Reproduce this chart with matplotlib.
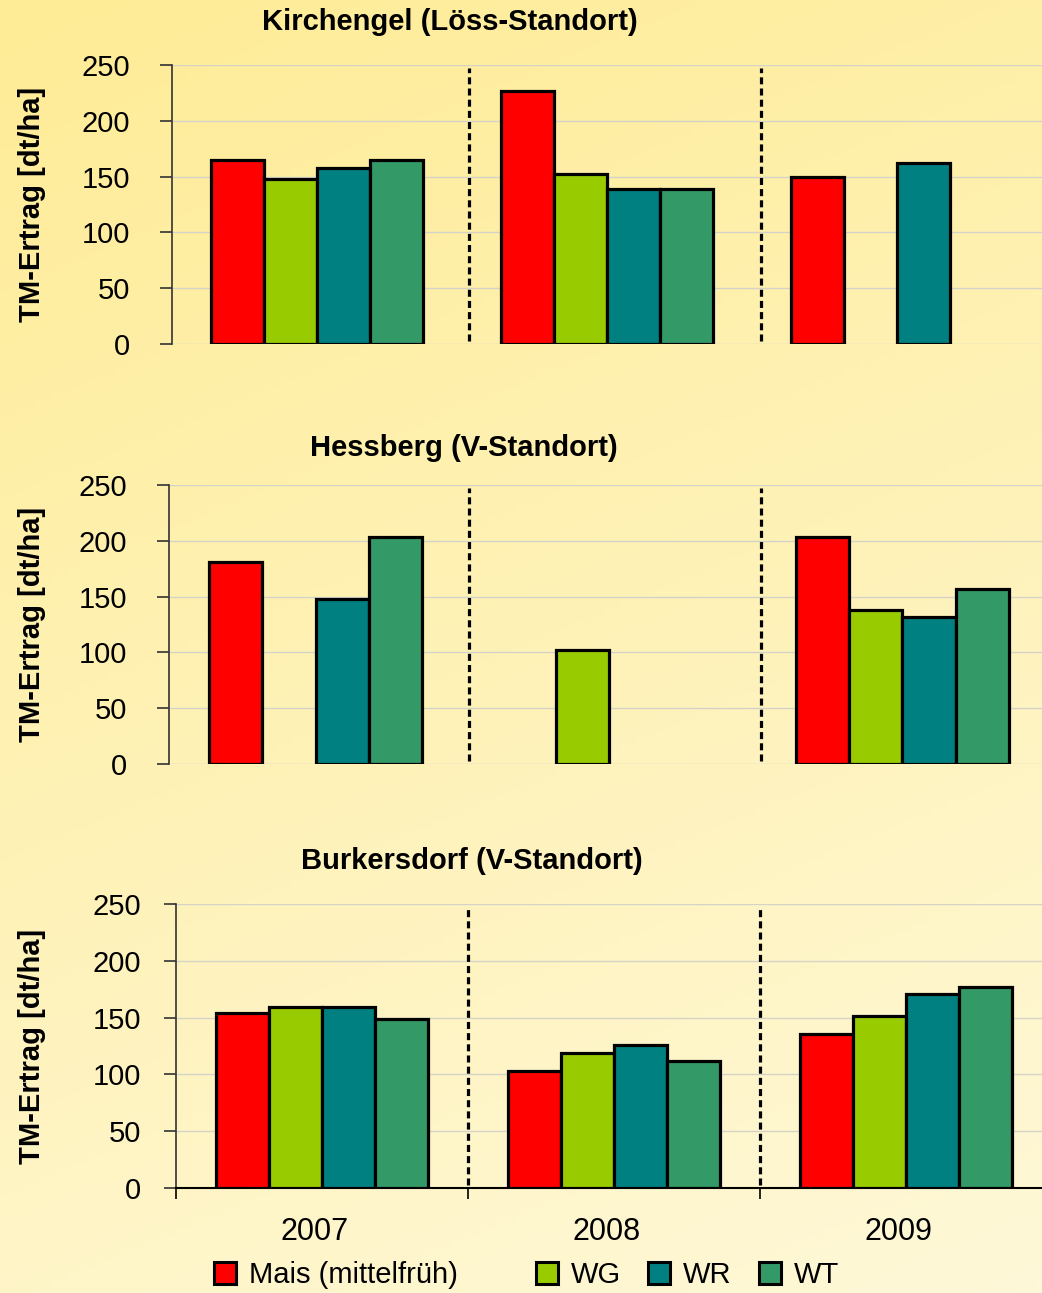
import numpy as np
import matplotlib.pyplot as plt
from matplotlib.patches import Patch
from matplotlib.colors import LinearSegmentedColormap

years = ['2007', '2008', '2009']
crops = ['Mais (mittelfrüh)', 'WG', 'WR', 'WT']
colors = ['#FF0000', '#99CC00', '#008080', '#339966']

sites = ['Kirchengel (Löss-Standort)', 'Hessberg (V-Standort)', 'Burkersdorf (V-Standort)']

# yields per site: one list per crop, values for 2007, 2008, 2009 (nan = no bar)
nan = np.nan
kirchengel = [[165, 227, 150],
              [148, 152, nan],
              [158, 139, 162],
              [165, 139, nan]]
hessberg = [[181, nan, 203],
            [nan, 102, 138],
            [148, nan, 132],
            [203, nan, 157]]
burkersdorf = [[154, 103, 136],
               [159, 119, 151],
               [159, 126, 171],
               [149, 112, 177]]
data = [kirchengel, hessberg, burkersdorf]

FAM = ['Liberation Sans', 'DejaVu Sans']
W, H = 1042, 1293
fig = plt.figure(figsize=(W / 100, H / 100), dpi=100)

# background gradient
bg = fig.add_axes([0, 0, 1, 1], zorder=-10)
yy, xx = np.mgrid[0:1:200j, 0:1:200j]
grad = 0.75 * yy + 0.25 * xx
cmap = LinearSegmentedColormap.from_list('bg', ['#FEEC96', '#FFF8D8'])
bg.imshow(grad, cmap=cmap, aspect='auto', extent=[0, 1, 0, 1], origin='upper')
bg.axis('off')

# axes rects in pixels: left, top, bottom, width
rects = [(172, 65, 344, 870), (169, 485, 764, 880), (176, 904, 1188, 876)]
seps = [[0.524, 1.531], [0.522, 1.517], [0.5, 1.5]]
title_pos = [(450, 22), (464, 448), (472, 861)]
ypads = [21, 21, 16]

bw = 0.182
x = np.arange(len(years))
for i, (l, t, b, w) in enumerate(rects):
    ax = fig.add_axes([l / W, 1 - b / H, w / W, (b - t) / H])
    ax.set_facecolor('none')
    for j, vals in enumerate(data[i]):
        ax.bar(x + (j - 1.5) * bw, vals, bw, color=colors[j], edgecolor='black',
               linewidth=2.3, zorder=3)
    for s in seps[i]:
        ax.axvline(s, ymin=0.01, ymax=0.99, color='black', linestyle=(0, (2.2, 1.3)),
                   linewidth=2.3, zorder=4)
    ax.set_xlim(-0.5, 2.5)
    ax.set_ylim(0, 250)
    ax.set_yticks(range(0, 251, 50))
    ax.yaxis.grid(True, color='#D5D3C8', linewidth=1, zorder=0)
    for sp in ['top', 'right']:
        ax.spines[sp].set_visible(False)
    ax.spines['left'].set_color('#333333')
    ax.spines['left'].set_linewidth(1.2)
    ax.tick_params(axis='y', labelsize=21, length=9, width=1.2, color='#333333',
                   pad=ypads[i])
    if i < 2:
        ax.spines['bottom'].set_visible(False)
        ax.set_xticks([])
    else:
        ax.spines['bottom'].set_linewidth(1.5)
        ax.set_xticks(x - 0.025)
        ax.set_xticklabels(years, family=FAM, fontsize=22)
        ax.tick_params(axis='x', length=0, pad=21)
        ax.set_xticks([-0.5, 0.5, 1.5], minor=True)
        ax.tick_params(axis='x', which='minor', length=8, width=1.2, direction='out')
    ax.set_axisbelow(True)
    for lab in ax.get_yticklabels():
        lab.set_family(FAM)

    tx, ty = title_pos[i]
    fig.text(tx / W, 1 - ty / H, sites[i], ha='center', va='center', fontsize=21,
             fontweight='bold', family=FAM)
    fig.text(32 / W, 1 - (t + b) / 2 / H, 'TM-Ertrag [dt/ha]', rotation=90, ha='center',
             va='center', fontsize=21, fontweight='bold', family=FAM)

# legend split in two parts to match spacing
handles = [Patch(facecolor=c, edgecolor='black', linewidth=2.2) for c in colors]
lp = dict(frameon=False, prop={'family': FAM, 'size': 21},
          handlelength=0.75, handleheight=0.75, handletextpad=0.45, borderaxespad=0,
          borderpad=0)
fig.legend(handles[:1], crops[:1], loc='center left',
           bbox_to_anchor=(214 / W, 1 - 1275 / H), **lp)
fig.legend(handles[1:], crops[1:], loc='center left', ncol=3, columnspacing=0.93,
           bbox_to_anchor=(536 / W, 1 - 1275 / H), **lp)

fig.savefig('out.png', dpi=100)
